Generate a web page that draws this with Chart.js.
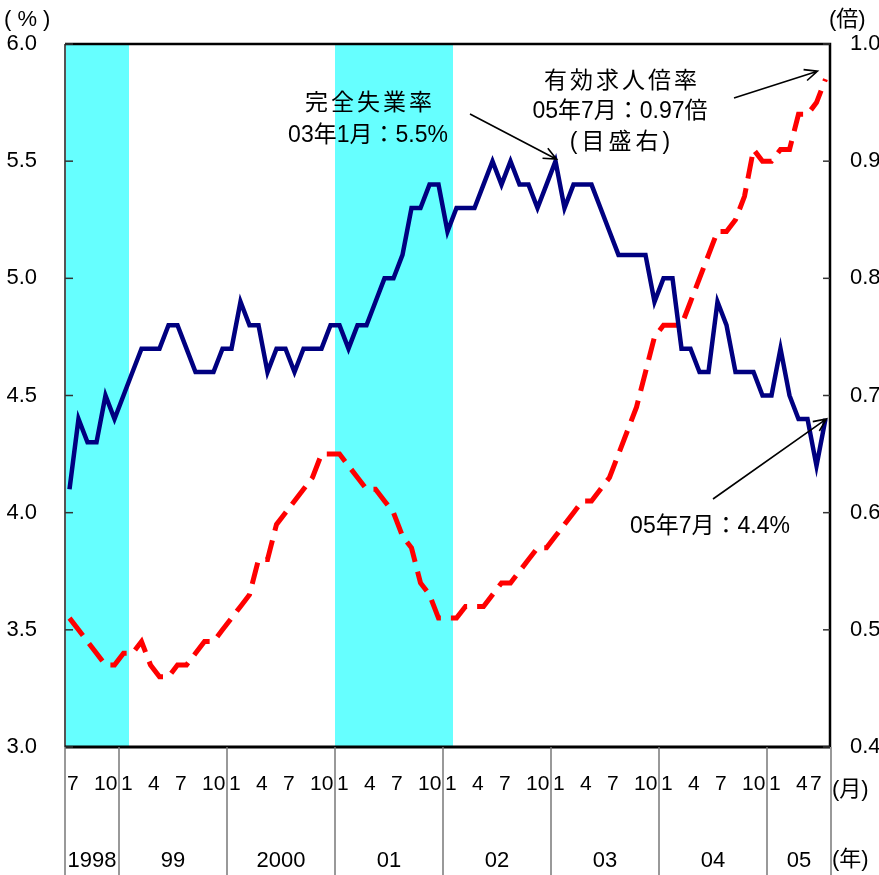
<!DOCTYPE html>
<html>
<head>
<meta charset="utf-8">
<script src="https://cdn.jsdelivr.net/npm/chart.js@4/dist/chart.umd.min.js"></script>
<style>
  html, body { margin: 0; padding: 0; background: #fff; }
  #wrap { width: 879px; height: 875px; position: relative; }
</style>
</head>
<body>
<div id="wrap"><canvas id="c"></canvas></div>
<script>
// months shown: 1998/7 .. 2005/7
const startYear = 1998, startMonth = 7, monthCount = 85;
const yearLabels = ['1998', '99', '2000', '01', '02', '03', '04', '05'];
const monthTicks = [1, 4, 7, 10];

// 完全失業率 (%), left scale
const unemployment = [
  4.1, 4.4, 4.3, 4.3, 4.5, 4.4,
  4.5, 4.6, 4.7, 4.7, 4.7, 4.8, 4.8, 4.7, 4.6, 4.6, 4.6, 4.7,
  4.7, 4.9, 4.8, 4.8, 4.6, 4.7, 4.7, 4.6, 4.7, 4.7, 4.7, 4.8,
  4.8, 4.7, 4.8, 4.8, 4.9, 5.0, 5.0, 5.1, 5.3, 5.3, 5.4, 5.4,
  5.2, 5.3, 5.3, 5.3, 5.4, 5.5, 5.4, 5.5, 5.4, 5.4, 5.3, 5.4,
  5.5, 5.3, 5.4, 5.4, 5.4, 5.3, 5.2, 5.1, 5.1, 5.1, 5.1, 4.9,
  5.0, 5.0, 4.7, 4.7, 4.6, 4.6, 4.9, 4.8, 4.6, 4.6, 4.6, 4.5,
  4.5, 4.7, 4.5, 4.4, 4.4, 4.2, 4.4
];

// 有効求人倍率 (倍), right scale
const jobRatio = [
  0.51, 0.50, 0.49, 0.48, 0.47, 0.47,
  0.48, 0.48, 0.49, 0.47, 0.46, 0.46, 0.47, 0.47, 0.48, 0.49, 0.49, 0.50,
  0.51, 0.52, 0.53, 0.56, 0.56, 0.59, 0.60, 0.61, 0.62, 0.63, 0.65, 0.65,
  0.65, 0.64, 0.63, 0.62, 0.62, 0.61, 0.60, 0.58, 0.57, 0.54, 0.53, 0.51,
  0.51, 0.51, 0.52, 0.52, 0.52, 0.53, 0.54, 0.54, 0.55, 0.56, 0.57, 0.57,
  0.58, 0.59, 0.60, 0.61, 0.61, 0.62, 0.63, 0.65, 0.67, 0.69, 0.72, 0.75,
  0.76, 0.76, 0.76, 0.78, 0.80, 0.82, 0.84, 0.84, 0.85, 0.87, 0.91, 0.90,
  0.90, 0.91, 0.91, 0.94, 0.94, 0.95, 0.97
];

// shaded periods (first month, last month)
const shaded = [['1998/7', '1999/1'], ['2001/1', '2002/1']];

const months = [];
for (let i = 0; i < monthCount; i++) {
  const m = startMonth - 1 + i;
  months.push((startYear + Math.floor(m / 12)) + '/' + (m % 12 + 1));
}

const FONT = '"Liberation Sans", "Noto Sans CJK JP", sans-serif';

function txt(ctx, s, x, y, align, spacing) {
  ctx.save();
  ctx.letterSpacing = (spacing || 0) + 'px';
  ctx.textAlign = align || 'left';
  ctx.fillText(s, x, y);
  ctx.restore();
}

function arrow(ctx, x1, y1, x2, y2) {
  const a = Math.atan2(y2 - y1, x2 - x1), L = 14, w = 0.42;
  ctx.beginPath();
  ctx.moveTo(x1, y1); ctx.lineTo(x2, y2);
  ctx.moveTo(x2 - L * Math.cos(a - w), y2 - L * Math.sin(a - w));
  ctx.lineTo(x2, y2);
  ctx.lineTo(x2 - L * Math.cos(a + w), y2 - L * Math.sin(a + w));
  ctx.stroke();
}

const decor = {
  id: 'decor',
  beforeDatasetsDraw(chart) {
    const { ctx, chartArea: a, scales: { x } } = chart;
    const half = (x.getPixelForValue(1) - x.getPixelForValue(0)) / 2;
    ctx.save();
    ctx.fillStyle = '#66ffff';
    shaded.forEach(([s, e]) => {
      const x0 = x.getPixelForValue(months.indexOf(s)) - half;
      const x1 = x.getPixelForValue(months.indexOf(e)) + half + 1;
      ctx.fillRect(x0, a.top, x1 - x0, a.bottom - a.top);
    });
    ctx.restore();
  },
  afterDraw(chart) {
    const { ctx, chartArea: a, scales: { x, y, y1 } } = chart;
    const half = (x.getPixelForValue(1) - x.getPixelForValue(0)) / 2;
    ctx.save();

    // frame
    ctx.lineWidth = 2;
    ctx.strokeStyle = '#555';
    ctx.beginPath(); ctx.moveTo(a.left, a.top); ctx.lineTo(a.left, a.bottom); ctx.stroke();
    ctx.strokeStyle = '#000';
    ctx.lineWidth = 2.5;
    ctx.beginPath(); ctx.moveTo(a.left, a.top); ctx.lineTo(a.right, a.top); ctx.lineTo(a.right, a.bottom); ctx.stroke();
    ctx.lineWidth = 3;
    ctx.beginPath(); ctx.moveTo(a.left, a.bottom); ctx.lineTo(a.right, a.bottom); ctx.stroke();

    // inward ticks
    ctx.lineWidth = 1.5;
    ctx.strokeStyle = '#333';
    y.ticks.forEach(t => {
      const p = y.getPixelForValue(t.value);
      ctx.beginPath(); ctx.moveTo(a.left, p); ctx.lineTo(a.left + 8, p); ctx.stroke();
    });
    y1.ticks.forEach(t => {
      const p = y1.getPixelForValue(t.value);
      ctx.beginPath(); ctx.moveTo(a.right, p); ctx.lineTo(a.right - 7, p); ctx.stroke();
    });

    // year separators below the axis
    const H = chart.height;
    const bounds = [a.left];
    months.forEach((m, i) => { if (i > 0 && m.endsWith('/1')) bounds.push(x.getPixelForValue(i) - half); });
    bounds.push(a.right + 1);
    ctx.strokeStyle = '#777';
    ctx.lineWidth = 1.5;
    bounds.forEach(b => { ctx.beginPath(); ctx.moveTo(b, a.bottom); ctx.lineTo(b, H); ctx.stroke(); });

    ctx.fillStyle = '#000';
    ctx.textBaseline = 'alphabetic';
    ctx.font = '21px ' + FONT;
    months.forEach((m, i) => {
      const mo = +m.split('/')[1];
      if (monthTicks.includes(mo)) {
        const px = Math.min(x.getPixelForValue(i) - half + 2, a.right - 20);
        txt(ctx, String(mo), px, 790, 'left');
      }
    });
    ctx.font = '22px ' + FONT;
    yearLabels.forEach((yl, k) => txt(ctx, yl, (bounds[k] + bounds[k + 1]) / 2, 867, 'center'));
    txt(ctx, '(月)', 832, 796, 'left');
    txt(ctx, '(年)', 832, 866, 'left');

    // unit labels
    txt(ctx, '( % )', 4, 26, 'left');
    txt(ctx, '(倍)', 829, 26, 'left');

    // annotations
    ctx.font = '23px ' + FONT;
    txt(ctx, '完全失業率', 370, 110, 'center', 3);
    txt(ctx, '03年1月：5.5%', 368, 142, 'center');
    txt(ctx, '有効求人倍率', 622, 88, 'center', 3);
    txt(ctx, '05年7月：0.97倍', 620, 118, 'center');
    txt(ctx, '(目盛右)', 622, 149, 'center', 4);
    txt(ctx, '05年7月：4.4%', 710, 533, 'center');

    ctx.strokeStyle = '#000';
    ctx.lineWidth = 1.6;
    const iPeak = months.indexOf('2003/1'), iLast = months.length - 1;
    arrow(ctx, 470, 114, x.getPixelForValue(iPeak) + 1, y.getPixelForValue(unemployment[iPeak]) - 2);
    arrow(ctx, 734, 98, x.getPixelForValue(iLast) - 8, y1.getPixelForValue(jobRatio[iLast]) - 8);
    arrow(ctx, 713, 499, x.getPixelForValue(iLast) + 1, y.getPixelForValue(unemployment[iLast]));
    ctx.restore();
  }
};

new Chart(document.getElementById('c'), {
  type: 'line',
  data: {
    labels: months,
    datasets: [
      { label: '完全失業率', data: unemployment, yAxisID: 'y', borderColor: '#000080',
        borderWidth: 4.5, pointRadius: 0, tension: 0, borderJoinStyle: 'miter' },
      { label: '有効求人倍率', data: jobRatio, yAxisID: 'y1', borderColor: '#ff0000',
        borderWidth: 5, borderDash: [22, 10], pointRadius: 0, tension: 0 }
    ]
  },
  options: {
    responsive: true,
    maintainAspectRatio: false,
    animation: false,
    devicePixelRatio: 1,
    layout: { padding: { top: 44, left: 0, right: 0, bottom: 0 } },
    plugins: { legend: { display: false }, tooltip: { enabled: false } },
    scales: {
      x: {
        offset: true,
        ticks: { display: false },
        grid: { display: false },
        border: { display: false },
        afterFit(s) { s.height = 128; }
      },
      y: {
        position: 'left', min: 3, max: 6,
        ticks: { stepSize: 0.5, color: '#000', padding: 28, font: { size: 22, family: FONT },
                 callback: v => v.toFixed(1) },
        grid: { display: false, drawTicks: false },
        border: { display: false },
        afterFit(s) { s.width = 65; }
      },
      y1: {
        position: 'right', min: 0.4, max: 1.0,
        ticks: { stepSize: 0.1, color: '#000', padding: 20, font: { size: 22, family: FONT },
                 callback: v => v.toFixed(1) },
        grid: { display: false, drawTicks: false },
        border: { display: false },
        afterFit(s) { s.width = 49; }
      }
    }
  },
  plugins: [decor]
});
</script>
</body>
</html>
